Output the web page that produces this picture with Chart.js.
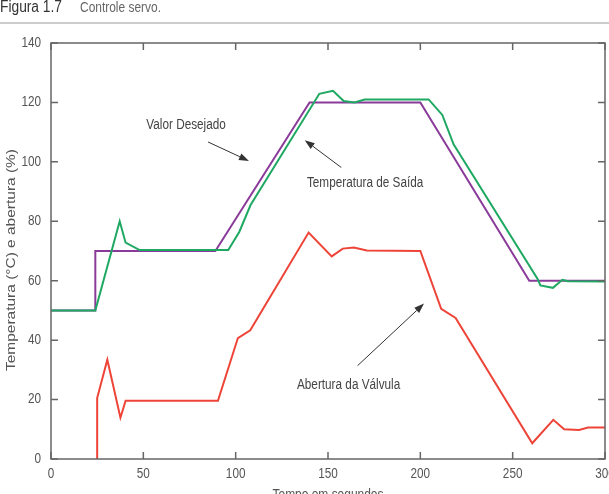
<!DOCTYPE html>
<html>
<head>
<meta charset="utf-8">
<script src="https://cdn.jsdelivr.net/npm/chart.js@4.4.1/dist/chart.umd.min.js"></script>
<style>
  html, body { margin: 0; padding: 0; background: #fff; }
  canvas { display: block; }
</style>
</head>
<body>
<canvas id="chart" width="609" height="494"></canvas>
<script>
const FONT = "'Liberation Sans', Arial, sans-serif";
const SQUEEZE = 0.84; // the original uses a condensed face

// Valor Desejado (set point)
const timeSP = [0, 24, 24, 89, 140, 200, 259, 300];
const valSP = [50, 50, 70, 70, 120, 120, 60, 60];

// Temperatura de Saida
const timePV = [0, 24, 37.2, 40.4, 48, 96, 102, 108, 145.3, 152.7, 158.5, 164.4, 169.8, 204.5, 211.9, 218, 263.5, 265, 271.8, 276.9, 280, 300];
const valPV = [50, 50, 80, 72.8, 70.3, 70.3, 76.5, 85.4, 122.9, 123.9, 120.5, 120, 121, 121, 115.8, 105.9, 60.6, 58.4, 57.6, 60.3, 59.8, 59.7];

// Abertura da Valvula
const timeMV = [25, 25, 30.5, 37.6, 40.4, 90.4, 101.2, 107.9, 139.5, 152, 158, 164, 171, 200, 211.3, 219.1, 260.6, 272, 277.9, 286, 290.8, 300];
const valMV = [0, 20.5, 33.4, 13.9, 19.6, 19.6, 40.7, 43.3, 76.2, 68.2, 70.8, 71.2, 70.2, 70, 50.5, 47.5, 5.3, 13.2, 10, 9.8, 10.6, 10.6];

const xTicks = [0, 50, 100, 150, 200, 250, 300];
const yTicks = [0, 20, 40, 60, 80, 100, 120, 140];

// annotation labels and arrows, in data units
const labels = [
  { text: 'Valor Desejado', x: 51.6, y: 112.3 },
  { text: 'Temperatura de Saída', x: 138.6, y: 92.8 },
  { text: 'Abertura da Válvula', x: 133.2, y: 25 }
];
const arrows = [
  { from: [85, 106.7], to: [107.2, 100.3] },
  { from: [157.2, 98.1], to: [137.4, 107.3] },
  { from: [166, 31.4], to: [202, 52.3] }
];

const toXY = (xs, ys) => xs.map((x, i) => ({ x: x, y: ys[i] }));

// draw text squeezed horizontally (or stretched to a given width)
function txt(ctx, s, x, y, o) {
  ctx.save();
  ctx.font = (o.weight || '') + ' ' + o.size + 'px ' + FONT;
  ctx.fillStyle = o.color || '#555';
  ctx.textAlign = o.align || 'left';
  ctx.textBaseline = o.base || 'middle';
  ctx.translate(x, y);
  if (o.rot) ctx.rotate(o.rot);
  const k = o.width ? o.width / ctx.measureText(s).width : SQUEEZE;
  ctx.scale(k, 1);
  ctx.fillText(s, 0, 0);
  ctx.restore();
}

const decor = {
  id: 'decor',
  afterDraw(chart) {
    const ctx = chart.ctx;
    const a = chart.chartArea;
    const sx = chart.scales.x, sy = chart.scales.y;
    ctx.save();

    // header
    txt(ctx, 'Figura 1.7', 0, 8, { size: 16, color: '#333', width: 62 });
    txt(ctx, 'Controle servo.', 80, 8, { size: 14, color: '#666', width: 81 });
    ctx.strokeStyle = '#bbb';
    ctx.lineWidth = 1.5;
    ctx.beginPath();
    ctx.moveTo(0, 23);
    ctx.lineTo(chart.width, 23);
    ctx.stroke();

    // frame with inward ticks
    ctx.strokeStyle = '#666';
    ctx.lineWidth = 1.5;
    ctx.strokeRect(a.left, a.top, a.right - a.left, a.bottom - a.top);
    const tl = 7;
    ctx.beginPath();
    xTicks.forEach(v => {
      const px = sx.getPixelForValue(v);
      ctx.moveTo(px, a.bottom); ctx.lineTo(px, a.bottom - tl);
      ctx.moveTo(px, a.top); ctx.lineTo(px, a.top + tl);
    });
    yTicks.forEach(v => {
      const py = sy.getPixelForValue(v);
      ctx.moveTo(a.left, py); ctx.lineTo(a.left + tl, py);
      ctx.moveTo(a.right, py); ctx.lineTo(a.right - tl, py);
    });
    ctx.stroke();

    // tick labels
    xTicks.forEach(v => {
      txt(ctx, String(v), sx.getPixelForValue(v), a.bottom + 15, { size: 14, align: 'center' });
    });
    yTicks.forEach(v => {
      txt(ctx, String(v), a.left - 10, sy.getPixelForValue(v), { size: 14, align: 'right' });
    });

    // axis titles
    txt(ctx, 'Tempo em segundos', (a.left + a.right) / 2, 499, { size: 14, align: 'center', base: 'alphabetic', width: 111 });
    txt(ctx, 'Temperatura (°C) e abertura (%)', 11, 260, { size: 13, align: 'center', rot: -Math.PI / 2, width: 222 });

    // annotations
    labels.forEach(l => {
      txt(ctx, l.text, sx.getPixelForValue(l.x), sy.getPixelForValue(l.y), { size: 14, color: '#444' });
    });
    ctx.strokeStyle = '#333';
    ctx.fillStyle = '#333';
    ctx.lineWidth = 1;
    arrows.forEach(ar => {
      const x1 = sx.getPixelForValue(ar.from[0]), y1 = sy.getPixelForValue(ar.from[1]);
      const x2 = sx.getPixelForValue(ar.to[0]), y2 = sy.getPixelForValue(ar.to[1]);
      const ang = Math.atan2(y2 - y1, x2 - x1);
      const hl = 10, hw = 3.5;
      const bx = x2 - hl * Math.cos(ang), by = y2 - hl * Math.sin(ang);
      ctx.beginPath();
      ctx.moveTo(x1, y1);
      ctx.lineTo(bx, by);
      ctx.stroke();
      ctx.beginPath();
      ctx.moveTo(x2, y2);
      ctx.lineTo(bx + hw * Math.sin(ang), by - hw * Math.cos(ang));
      ctx.lineTo(bx - hw * Math.sin(ang), by + hw * Math.cos(ang));
      ctx.closePath();
      ctx.fill();
    });
    ctx.restore();
  }
};

new Chart(document.getElementById('chart').getContext('2d'), {
  type: 'line',
  data: {
    datasets: [
      { label: 'Temperatura de Saída', data: toXY(timePV, valPV), borderColor: '#1fa862', borderWidth: 2 },
      { label: 'Valor Desejado', data: toXY(timeSP, valSP), borderColor: '#8a3b9a', borderWidth: 2 },
      { label: 'Abertura da Válvula', data: toXY(timeMV, valMV), borderColor: '#ee4438', borderWidth: 2 }
    ]
  },
  options: {
    responsive: false,
    animation: false,
    devicePixelRatio: 1,
    elements: { point: { radius: 0 }, line: { tension: 0 } },
    layout: { padding: { top: 43, right: 4, left: 0, bottom: 0 } },
    plugins: { legend: { display: false }, tooltip: { enabled: false } },
    scales: {
      x: {
        type: 'linear', min: 0, max: 300,
        grid: { display: false }, border: { display: false },
        ticks: { display: false },
        afterFit: s => { s.height = 35; s.paddingLeft = 0; s.paddingRight = 0; }
      },
      y: {
        min: 0, max: 140,
        grid: { display: false }, border: { display: false },
        ticks: { display: false },
        afterFit: s => { s.width = 51; s.paddingTop = 0; s.paddingBottom = 0; }
      }
    }
  },
  plugins: [decor]
});
</script>
</body>
</html>
